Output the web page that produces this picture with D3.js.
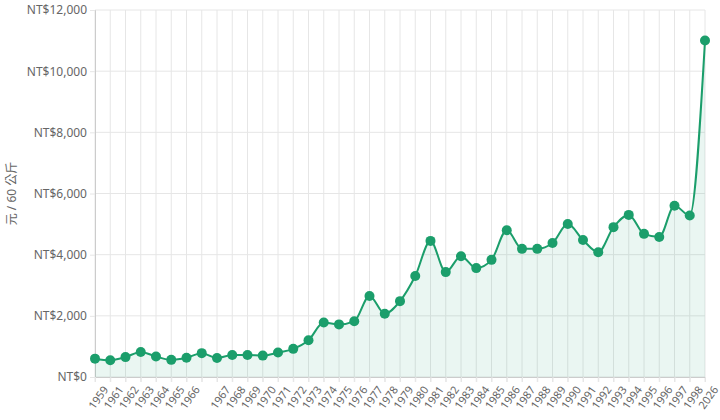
<!DOCTYPE html>
<html><head><meta charset="utf-8">
<script src="https://cdn.jsdelivr.net/npm/d3@7"></script>
<style>body{margin:0;background:#fff}text{font-family:"Noto Sans","Noto Sans CJK TC",sans-serif}</style>
</head><body>
<script>
// categories (one label is blank in the original)
const years = ["1959","1961","1962","1963","1964","1965","1966","","1967","1968","1969","1970","1971","1972","1973","1974","1975","1976","1977","1978","1979","1980","1981","1982","1983","1984","1985","1986","1987","1988","1989","1990","1991","1992","1993","1994","1995","1996","1997","1998","2026"];
const prices = [600,550,650,820,670,560,630,780,620,720,720,700,800,920,1200,1780,1720,1820,2650,2070,2480,3300,4450,3430,3950,3560,3830,4800,4190,4190,4380,5000,4480,4080,4900,5300,4680,4580,5600,5280,11000];
const yTicks = [0,2000,4000,6000,8000,10000,12000];

const W = 720, H = 420, m = {l:95, r:15, t:10, b:43};
const color = "#1b9e6b";
const svg = d3.select("body").append("svg").attr("width", W).attr("height", H);

const idx = d3.range(years.length);
const x = d3.scalePoint().domain(idx).range([m.l, W - m.r]);
const y = d3.scaleLinear().domain([0, 12000]).range([H - m.b, m.t]);

// grid
svg.append("g").selectAll("line").data(yTicks).enter().append("line")
    .attr("x1", m.l).attr("x2", W - m.r)
    .attr("y1", d => y(d)).attr("y2", d => y(d))
    .attr("stroke", "#e6e6e6");
svg.append("g").selectAll("line").data(idx).enter().append("line")
    .attr("x1", d => x(d)).attr("x2", d => x(d))
    .attr("y1", m.t).attr("y2", H - m.b + 5)
    .attr("stroke", "#e6e6e6");

// axes
const fmt = d3.format(",");
svg.append("g").attr("transform", "translate(" + m.l + ",0)")
    .call(d3.axisLeft(y).tickValues(yTicks).tickSize(5).tickFormat(d => "NT$" + fmt(d)))
    .call(g => g.select(".domain").attr("stroke", "#ccc"))
    .call(g => g.selectAll(".tick line").attr("stroke", "#e6e6e6"))
    .call(g => g.selectAll("text").attr("fill", "#666").attr("font-size", 12));

const xa = svg.append("g").attr("transform", "translate(0," + (H - m.b) + ")")
    .call(d3.axisBottom(x).tickSize(5).tickFormat(i => years[i]));
xa.select(".domain").attr("stroke", "#ccc");
xa.selectAll(".tick line").attr("stroke", "#e6e6e6");
xa.selectAll("text").attr("fill", "#666").attr("font-size", 11)
    .attr("text-anchor", "end").attr("dy", "0.3em")
    .attr("transform", "translate(4,6) rotate(-55)");

svg.append("text").attr("transform", "translate(16," + ((m.t + H - m.b) / 2) + ") rotate(-90)")
    .attr("text-anchor", "middle").attr("fill", "#666").attr("font-size", 12).text("元 / 60 公斤");

// area + line
svg.append("path").datum(idx)
    .attr("d", d3.area().x(d => x(d)).y0(y(0)).y1(d => y(prices[d])).curve(d3.curveMonotoneX))
    .attr("fill", color).attr("fill-opacity", 0.09);
svg.append("path").datum(idx)
    .attr("d", d3.line().x(d => x(d)).y(d => y(prices[d])).curve(d3.curveMonotoneX))
    .attr("fill", "none").attr("stroke", color).attr("stroke-width", 2);
svg.append("g").selectAll("circle").data(idx).enter().append("circle")
    .attr("cx", d => x(d)).attr("cy", d => y(prices[d])).attr("r", 5)
    .attr("fill", color);
</script>
</body></html>
